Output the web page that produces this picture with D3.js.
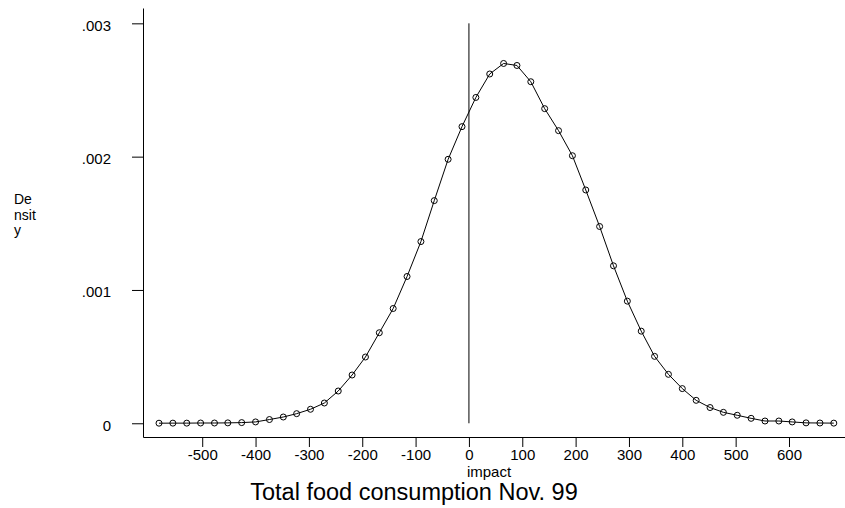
<!DOCTYPE html>
<html>
<head>
<meta charset="utf-8">
<script src="https://cdn.jsdelivr.net/npm/d3@7"></script>
<style>
  body { margin: 0; background: #fff; }
  svg { display: block; font-family: 'Liberation Sans', Arial, sans-serif; }
</style>
</head>
<body>
<svg class="kd-svg" width="845" height="508"></svg>
<script>
// kernel density estimate, 50 evaluation points
const impact = [
  -581, -555, -529, -503, -477, -452, -426, -400, -374, -348,
  -323, -297, -271, -245, -219, -194, -168, -142, -116, -90,
  -65, -39, -13, 13, 39, 65, 90, 116, 142, 168,
  194, 219, 245, 271, 297, 323, 348, 374, 400, 426,
  452, 477, 503, 529, 555, 581, 606, 632, 658, 684
]
const density = [
  0.0000005, 0.000001, 0.000001, 0.000002, 0.000002, 0.000003, 0.000005, 0.000010, 0.000028, 0.000047,
  0.000072, 0.000105, 0.000152, 0.000242, 0.000362, 0.000497, 0.000679, 0.000861, 0.001101, 0.001363,
  0.001670, 0.001980, 0.002225, 0.002444, 0.002620, 0.002699, 0.002684, 0.002562, 0.002360, 0.002195,
  0.002007, 0.001750, 0.001476, 0.001181, 0.000916, 0.000691, 0.000502, 0.000367, 0.000260, 0.000172,
  0.000118, 0.000082, 0.000060, 0.000037, 0.000017, 0.000017, 0.000010, 0.000003, 0.000002, 0.000001
]
const xTicks = [-500, -400, -300, -200, -100, 0, 100, 200, 300, 400, 500, 600]
const yTicks = [0, 0.001, 0.002, 0.003]
const yTickLabels = ['0', '.001', '.002', '.003']
const refLine = 0

const data = impact.map((x, i) => ({ x: x, y: density[i] }))

const svg = d3.select('.kd-svg')

const xScale = d3.scaleLinear().domain([-611, 705]).range([143, 845])
const yScale = d3.scaleLinear().domain([-0.000103, 0.003115]).range([437, 8])

/**
 * Draws the x axis along the bottom of the plot region
 */
function drawXAxis () {
  const g = svg.append('g')
    .attr('class', 'x axis')
    .attr('transform', `translate(0,${yScale.range()[0]})`)
    .call(d3.axisBottom(xScale)
      .tickValues(xTicks)
      .tickSizeInner(10)
      .tickSizeOuter(0)
      .tickPadding(2)
      .tickFormat(d => String(d)))
  g.selectAll('text').style('font-size', '15px').attr('fill', '#000')
  g.selectAll('line, path').attr('stroke', '#000')
}

/**
 * Draws the y axis on the left, labels as Stata prints them
 */
function drawYAxis () {
  const g = svg.append('g')
    .attr('class', 'y axis')
    .attr('transform', `translate(${xScale.range()[0]},0)`)
    .call(d3.axisLeft(yScale)
      .tickValues(yTicks)
      .tickSizeInner(11)
      .tickSizeOuter(0)
      .tickPadding(21)
      .tickFormat((d, i) => yTickLabels[i]))
  g.selectAll('text').style('font-size', '15px').attr('fill', '#000').attr('dy', '0.45em')
  g.selectAll('line, path').attr('stroke', '#000')
}

drawXAxis()
drawYAxis()

// vertical reference line at zero impact
svg.append('line')
  .attr('x1', xScale(refLine))
  .attr('x2', xScale(refLine))
  .attr('y1', yScale(0.003))
  .attr('y2', yScale(0))
  .attr('stroke', '#000')

const line = d3.line()
  .x(d => xScale(d.x))
  .y(d => yScale(d.y))

svg.append('path')
  .datum(data)
  .attr('d', line)
  .attr('fill', 'none')
  .attr('stroke', '#000')
  .attr('stroke-width', 1)

svg.selectAll('.pt')
  .data(data)
  .enter()
  .append('circle')
  .attr('class', 'pt')
  .attr('cx', d => xScale(d.x))
  .attr('cy', d => yScale(d.y))
  .attr('r', 3)
  .attr('fill', 'none')
  .attr('stroke', '#000')

// y title broken over three lines like the original
svg.append('text')
  .attr('x', 14)
  .attr('y', 204)
  .style('font-size', '14px')
  .selectAll('tspan')
  .data(['De', 'nsit', 'y'])
  .enter()
  .append('tspan')
  .attr('x', 14)
  .attr('dy', (d, i) => i === 0 ? 0 : 15.5)
  .text(d => d)

svg.append('text')
  .attr('x', 489)
  .attr('y', 477)
  .attr('text-anchor', 'middle')
  .style('font-size', '15px')
  .text('impact')

svg.append('text')
  .attr('x', 414)
  .attr('y', 500)
  .attr('text-anchor', 'middle')
  .style('font-size', '23.5px')
  .text('Total food consumption Nov. 99')
</script>
</body>
</html>
